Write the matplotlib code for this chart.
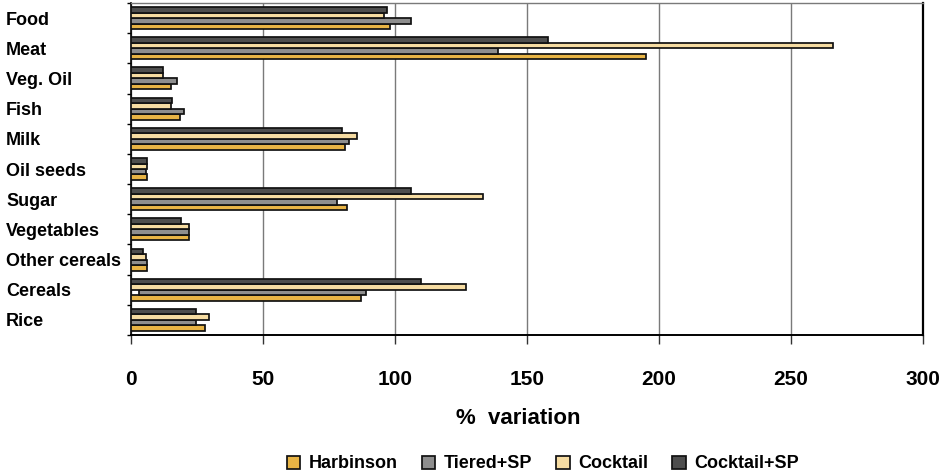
"""
Food groups: % variation under four scenarios, horizontal grouped bar chart
"""

import matplotlib
matplotlib.use("Agg")
import matplotlib.pyplot as plt
import numpy as np

plt.rcParams['font.family'] = ['Liberation Sans', 'DejaVu Sans']
plt.rcParams['font.weight'] = 'bold'

# categories, top to bottom as drawn
categories = ['Food', 'Meat', 'Veg. Oil', 'Fish', 'Milk', 'Oil seeds', 'Sugar',
              'Vegetables', 'Other cereals', 'Cereals', 'Rice']

harbinson   = [98, 195, 15, 18.5, 81, 6, 82, 22, 6, 87, 28]
tiered_sp   = [106, 139, 17.5, 20, 82.5, 5.5, 78, 22, 6, 89, 24.5]
cocktail    = [96, 266, 12, 15, 85.5, 6, 133.5, 22, 5.5, 127, 29.5]
cocktail_sp = [97, 158, 12, 15.5, 80, 6, 106, 19, 4.5, 110, 24.5]
# Tiered+SP bar for Cereals begins slightly right of zero in the source
tiered_left = [0, 0, 0, 0, 0, 0, 0, 0, 0, 3, 0]

xticks = [0, 50, 100, 150, 200, 250, 300]

series = [
    ('Harbinson', harbinson, '#E8B445'),
    ('Tiered+SP', tiered_sp, '#8E8E8E'),
    ('Cocktail', cocktail, '#F6DCA2'),
    ('Cocktail+SP', cocktail_sp, '#4E4E4E'),
]


def main():
    fig = plt.figure(figsize=(9.41, 4.75), dpi=100)
    ax = fig.add_axes([131 / 941, 1 - 335 / 475, 792 / 941, 332 / 475])

    n = len(categories)
    y = np.arange(n)[::-1]
    h = 0.182
    offsets = [-1.5 * h, -0.5 * h, 0.5 * h, 1.5 * h]

    handles = []
    for (name, vals, col), off in zip(series, offsets):
        vals = np.array(vals, dtype=float)
        left = np.array(tiered_left) if name == 'Tiered+SP' else np.zeros(n)
        b = ax.barh(y + off, vals - left, left=left, height=h, color=col,
                    edgecolor='#111111', linewidth=1.25, label=name, zorder=3)
        handles.append(b)

    ax.set_xlim(0, 300)
    ax.set_ylim(-0.5, n - 0.5)
    ax.set_xticks(xticks)
    ax.set_xticklabels([str(t) for t in xticks], fontsize=15, fontweight='bold')
    ax.tick_params(axis='x', direction='out', length=6.5, width=1, pad=19,
                   color='#333333')

    # labels in the middle of each band, tick marks at the band edges
    ax.set_yticks(y)
    ax.set_yticklabels(categories, fontsize=13, fontweight='bold', ha='left')
    ax.tick_params(axis='y', which='major', length=0, pad=90)
    ax.set_yticks(np.arange(n + 1) - 0.5, minor=True)
    ax.tick_params(axis='y', which='minor', direction='out', length=3, width=1)

    ax.grid(axis='x', color='#7a7a7a', linewidth=1.0, zorder=0)
    ax.set_axisbelow(True)

    ax.spines['top'].set_color('#7a7a7a')
    ax.spines['top'].set_linewidth(1.0)
    ax.spines['right'].set_linewidth(1.6)
    ax.spines['bottom'].set_linewidth(1.4)
    ax.spines['left'].set_linewidth(1.2)

    fig.text(518 / 941, 1 - 418 / 475, '%  variation', fontsize=16,
             fontweight='bold', ha='center', va='center')

    fig.legend(handles=handles, loc='center', bbox_to_anchor=(543 / 941, 1 - 464 / 475),
               ncol=4, frameon=False, handlelength=0.75,
               handleheight=0.75, handletextpad=0.5, columnspacing=1.3,
               prop={'weight': 'bold', 'size': 13})

    fig.savefig('out.png', dpi=100)


if __name__ == "__main__":
    main()
